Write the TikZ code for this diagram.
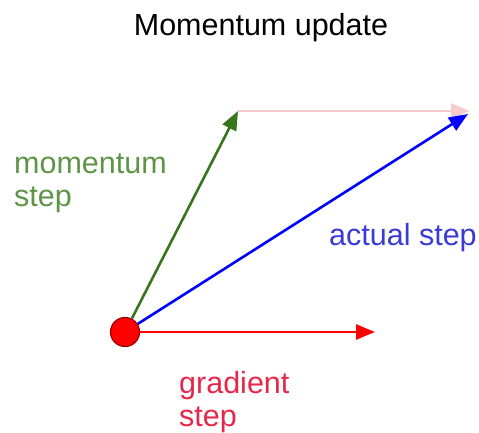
\documentclass[tikz,border=0pt]{standalone}
\usepackage{fontspec}
\setmainfont{Liberation Sans}
\usetikzlibrary{arrows.meta}
\definecolor{momGreen}{HTML}{38761D}
\definecolor{momGreenText}{HTML}{5E9446}
\definecolor{actBlue}{HTML}{0000FF}
\definecolor{actBlueText}{HTML}{3A3AD6}
\definecolor{gradRed}{HTML}{FF0000}
\definecolor{gradRedText}{HTML}{E8264A}
\definecolor{sumPink}{HTML}{F4CCCC}
\definecolor{dotEdge}{HTML}{990000}
\tikzset{
  mstep/.style={line width=2.6pt, -{Triangle[length=19pt,width=15pt]}},
  mlab/.style={font=\fontsize{30.5}{33}\selectfont, inner sep=0pt, anchor=base west, align=left},
}
\begin{document}
\begin{tikzpicture}[x=1pt, y=-1pt]
  \useasboundingbox (0,0) rectangle (479,432);
  \node[circle, fill=gradRed, draw=dotEdge, line width=1.2pt, minimum size=29pt, inner sep=0pt] (dot) at (125,332) {};
  \coordinate (mtip) at (238,111);
  \coordinate (ptip) at (470,111);
  \coordinate (atip) at (468,114);
  \coordinate (gtip) at (375,332);
  \draw[mstep, sumPink] (mtip) -- (ptip);
  \draw[mstep, momGreen] (dot) -- (mtip);
  \draw[mstep, actBlue] (dot) -- (atip);
  \draw[mstep, gradRed] (dot) -- (gtip);
  \node[mlab, anchor=base] (title) at (261,35) {Momentum update};
  % base anchor sits on the last line
  \node[mlab, text=momGreenText] (mlabel) at (14,206) {momentum\\step};
  \node[mlab, text=actBlueText] (alabel) at (329,245) {actual step};
  \node[mlab, text=gradRedText] (glabel) at (179,426) {gradient\\step};
\end{tikzpicture}
\end{document}
